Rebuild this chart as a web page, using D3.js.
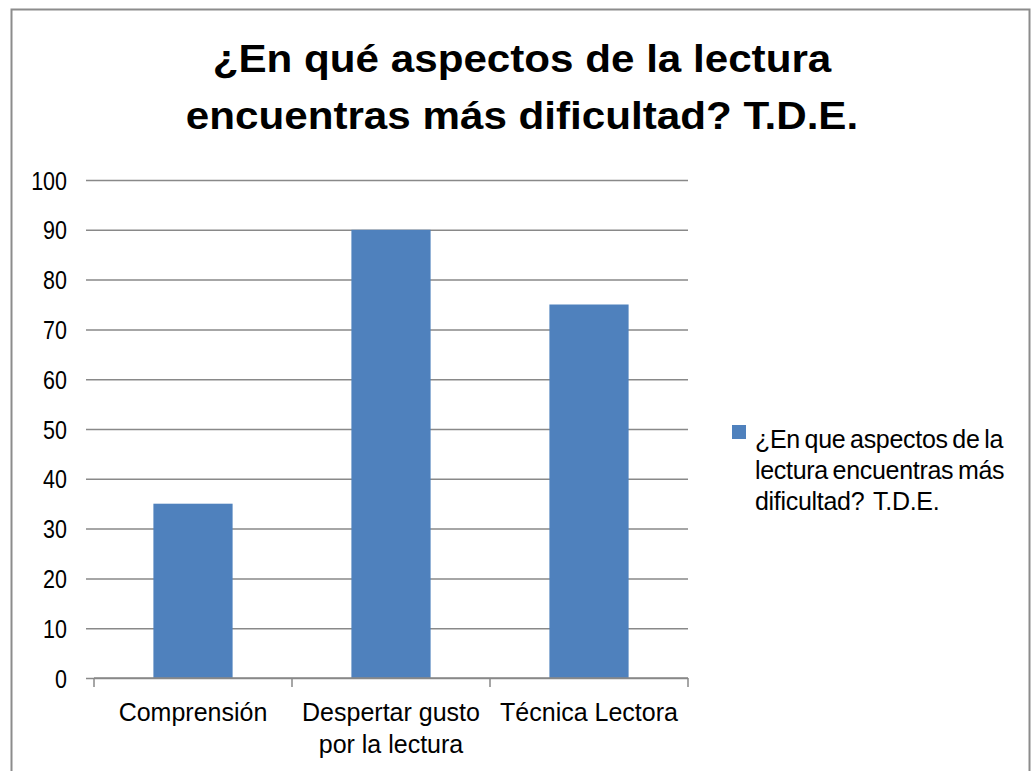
<!DOCTYPE html>
<html>
<head>
<meta charset="utf-8">
<script src="https://cdn.jsdelivr.net/npm/d3@7"></script>
<style>
  body { margin: 0; background: #fff; }
  svg { font-family: "Liberation Sans", Arial, sans-serif; }
</style>
</head>
<body>
<svg id="chart" width="1034" height="771"></svg>
<script>
// data
var categories = [["Comprensión"], ["Despertar gusto", "por la lectura"], ["Técnica Lectora"]];
var values = [35, 90, 75];
var yTicks = [0, 10, 20, 30, 40, 50, 60, 70, 80, 90, 100];
var titleLines = ["¿En qué aspectos de la lectura", "encuentras más dificultad? T.D.E."];
var legendLines = ["¿En que aspectos de la", "lectura encuentras más", "dificultad?\u00a0 T.D.E."];

var svg = d3.select('#chart');

// outer frame
svg.append('rect')
    .attr('x', 11.5).attr('y', 9.5)
    .attr('width', 1018).attr('height', 780)
    .attr('fill', 'none')
    .attr('stroke', '#8c8c8c')
    .attr('stroke-width', 2);

// title (glyphs in the picture are a bit wider than the font, so stretch)
svg.append('g').selectAll('text')
    .data(titleLines)
    .join('text')
    .attr('transform', function (d, i) { return 'translate(522,' + (72 + i * 57) + ') scale(1.11,1)'; })
    .attr('text-anchor', 'middle')
    .attr('font-size', 38)
    .attr('font-weight', 'bold')
    .attr('fill', '#000')
    .text(function (d) { return d; });

var x = d3.scaleBand()
    .domain(d3.range(categories.length))
    .range([94, 688])
    .paddingInner(0.6)
    .paddingOuter(0.3);

var y = d3.scaleLinear()
    .domain([0, 100])
    .range([678, 180]);

// gridlines + y labels
var yAxis = svg.append('g')
    .attr('transform', 'translate(94,0)')
    .call(d3.axisLeft(y).tickValues(yTicks).tickSize(8).tickSizeOuter(0));
yAxis.select('.domain').remove();
yAxis.selectAll('.tick line')
    .attr('x2', 688 - 94)
    .attr('x1', -8)
    .attr('stroke', '#898989')
    .attr('stroke-width', 1.5);
yAxis.selectAll('.tick text')
    .attr('x', null)
    .attr('dy', null)
    .attr('transform', 'translate(-27,9) scale(0.86,1)')
    .attr('font-size', 25)
    .attr('font-family', '"Liberation Sans", Arial, sans-serif')
    .attr('fill', '#000');

// bars
svg.append('g').selectAll('rect')
    .data(values)
    .join('rect')
    .attr('x', function (d, i) { return x(i); })
    .attr('y', function (d) { return y(d); })
    .attr('width', x.bandwidth())
    .attr('height', function (d) { return y(0) - y(d); })
    .attr('fill', '#4f81bd');

// x axis line + ticks between categories
var step = (688 - 94) / categories.length;
var bounds = d3.range(categories.length + 1).map(function (i) { return 94 + i * step; });
var xg = svg.append('g');
xg.append('line')
    .attr('x1', 94).attr('x2', 688)
    .attr('y1', y(0)).attr('y2', y(0))
    .attr('stroke', '#898989').attr('stroke-width', 1.5);
xg.selectAll('line.tk')
    .data(bounds)
    .join('line')
    .attr('class', 'tk')
    .attr('x1', function (d) { return d; }).attr('x2', function (d) { return d; })
    .attr('y1', y(0)).attr('y2', y(0) + 9)
    .attr('stroke', '#898989').attr('stroke-width', 1.5);

// x labels
xg.selectAll('text.cat')
    .data(categories)
    .join('text')
    .attr('class', 'cat')
    .attr('text-anchor', 'middle')
    .attr('font-size', 25)
    .attr('fill', '#000')
    .each(function (d, i) {
        var t = d3.select(this);
        d.forEach(function (line, j) {
            t.append('tspan')
                .attr('x', x(i) + x.bandwidth() / 2)
                .attr('y', 721 + j * 32)
                .text(line);
        });
    });

// legend
var lg = svg.append('g');
lg.append('rect')
    .attr('x', 732).attr('y', 425)
    .attr('width', 14).attr('height', 14)
    .attr('fill', '#4f81bd');
lg.selectAll('text')
    .data(legendLines)
    .join('text')
    .attr('x', 755)
    .attr('y', function (d, i) { return 448 + i * 31; })
    .attr('font-size', 25)
    .attr('letter-spacing', -0.3)
    .attr('word-spacing', -2)
    .attr('fill', '#000')
    .text(function (d) { return d; });
</script>
</body>
</html>
